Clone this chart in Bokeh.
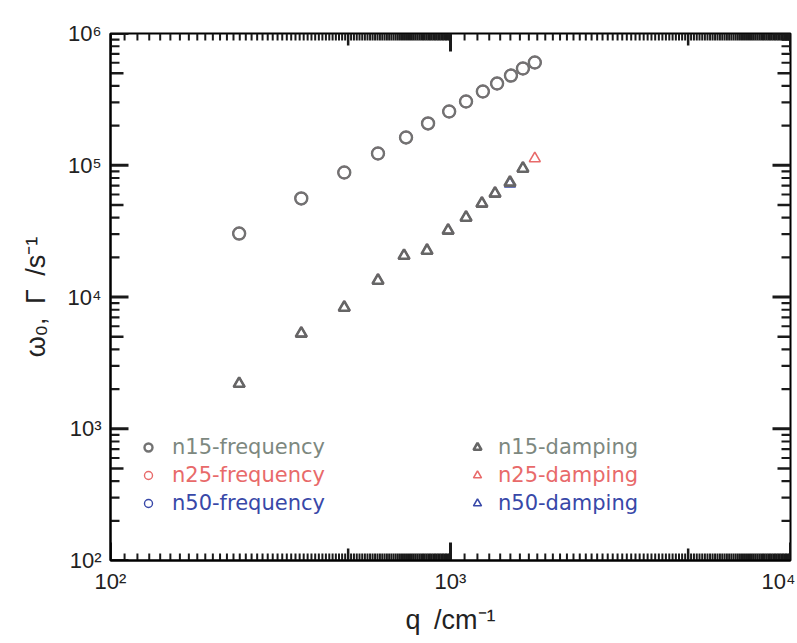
import math
from bokeh.plotting import figure
from bokeh.models import (FixedTicker, CustomJSTickFormatter, Legend,
                          LegendItem, Range1d)
from bokeh.embed import file_html
from bokeh.resources import INLINE

# ---- data ----
q = [239, 364, 487, 612, 740, 859, 991, 1111, 1245, 1371, 1506, 1633, 1770]

freq_n15 = [30300, 56000, 88100, 122800, 162500, 207600, 255800, 304700,
            362800, 417200, 479400, 542400, 602500]
freq_n25 = [30300, 56000, 88100, 122800, 162500, 207600, 255800, 304700,
            362800, 417200, 479400, 542400, 602500]
freq_n50 = [30300, 56000, 88100, 122800, 162500, 207600, 255800, 304700,
            362800, 417200, 479400, 542400, 602500]

q_damp = [239, 364, 487, 612, 730, 853, 984, 1111, 1237, 1352, 1496, 1633]
damp_n15 = [2200, 5290, 8320, 13340, 20600, 22500, 32000, 40100, 51300,
            61100, 74000, 94400]
q_damp_n25 = [239, 364, 487, 612, 730, 853, 984, 1111, 1237, 1352, 1496, 1633, 1770]
damp_n25 = [2200, 5290, 8320, 13340, 20600, 22500, 32000, 40100, 51300,
            61100, 74000, 94400, 112500]
damp_n50 = [2200, 5290, 8320, 13340, 20600, 22500, 32000, 40100, 51300,
            61100, 72500, 94400]

series_labels = ["n15-frequency", "n25-frequency", "n50-frequency",
                 "n15-damping", "n25-damping", "n50-damping"]

x_major = [1e2, 1e3, 1e4]
y_major = [1e2, 1e3, 1e4, 1e5, 1e6]

# ---- styles ----
C15 = "#727272"
C15_TXT = "#7d887f"
C25 = "#e86a6a"
C50 = "#3848a8"
TICK = "#1a1a1a"

FW, FH = 680, 527
X0, X1, Y0, Y1 = 1e2, 1e4, 1e2, 1e6
PX_DEC_X = FW / math.log10(X1 / X0)
PX_DEC_Y = FH / math.log10(Y1 / Y0)

x_medium = [500, 5000]
x_minor = [v for v in range(110, 1000, 10) if v != 500] + \
          [v for v in range(1100, 10000, 100) if v != 5000]
y_medium = [5 * 10 ** e for e in range(2, 6)]
y_minor = [k * 10 ** e for e in range(2, 6) for k in (2, 3, 4, 6, 7, 8, 9)]

p = figure(frame_width=FW, frame_height=FH,
           x_axis_type="log", y_axis_type="log",
           x_range=Range1d(X0, X1), y_range=Range1d(Y0, Y1),
           output_backend="svg", toolbar_location=None,
           min_border_left=110, min_border_top=33, min_border_right=5,
           min_border_bottom=10)
p.background_fill_color = "white"
p.border_fill_color = "white"
p.grid.visible = False
p.outline_line_color = "black"
p.outline_line_width = 2

fmt = CustomJSTickFormatter(code="""
const s = {'0':'\u2070','1':'\u00b9','2':'\u00b2','3':'\u00b3','4':'\u2074',
           '5':'\u2075','6':'\u2076','7':'\u2077','8':'\u2078','9':'\u2079'};
const e = Math.round(Math.log10(tick));
return '10' + String(e).split('').map(c => s[c]).join('');
""")

for ax, ticks in ((p.xaxis[0], x_major), (p.yaxis[0], y_major)):
    ax.ticker = FixedTicker(ticks=ticks, minor_ticks=[])
    ax.formatter = fmt
    ax.axis_line_width = 2
    ax.axis_line_color = "black"
    ax.major_tick_in = 0
    ax.major_tick_out = 0
    ax.minor_tick_in = 0
    ax.minor_tick_out = 0
    ax.major_label_text_font = "Liberation Sans"
    ax.major_label_text_font_size = "22px"
    ax.major_label_text_color = "#222222"
    ax.axis_label_text_font = "Liberation Sans"
    ax.axis_label_text_font_size = "27px"
    ax.axis_label_text_font_style = "normal"
    ax.axis_label_text_color = "#222222"

p.xaxis[0].axis_label = "q\u2002/cm\u207b\u00b9"
p.xaxis[0].major_label_standoff = 8
p.xaxis[0].axis_label_standoff = 8
p.yaxis[0].axis_label = "\u03c9\u2080,\u2002\u0393\u2002/s\u207b\u00b9"
p.yaxis[0].major_label_standoff = 9
p.yaxis[0].axis_label_standoff = 14


# ---- inward tick marks (top/bottom and left/right edges) ----
def x_edge_ticks(vals, length, lw):
    f = 10 ** (length / PX_DEC_Y)
    xs = [float(v) for v in vals]
    p.segment(x0=xs + xs, y0=[Y0] * len(xs) + [Y1] * len(xs),
              x1=xs + xs, y1=[Y0 * f] * len(xs) + [Y1 / f] * len(xs),
              line_color=TICK, line_width=lw)


def y_edge_ticks(vals, length, lw):
    f = 10 ** (length / PX_DEC_X)
    ys = [float(v) for v in vals]
    p.segment(x0=[X0] * len(ys) + [X1] * len(ys), y0=ys + ys,
              x1=[X0 * f] * len(ys) + [X1 / f] * len(ys), y1=ys + ys,
              line_color=TICK, line_width=lw)


x_edge_ticks(x_major, 18, 3)
x_edge_ticks(x_medium, 12, 2.5)
x_edge_ticks(x_minor, 7, 2)
y_edge_ticks(y_major, 18, 3)
y_edge_ticks(y_medium, 13, 2.5)
y_edge_ticks(y_minor, 9, 2.2)

# ---- glyphs ----
r_f50 = p.scatter(q, freq_n50, marker="circle", size=12, fill_color=None,
                  line_color=C50, line_width=1.4)
r_f25 = p.scatter(q, freq_n25, marker="circle", size=12, fill_color=None,
                  line_color=C25, line_width=1.4)
r_f15 = p.scatter(q, freq_n15, marker="circle", size=12, fill_color=None,
                  line_color=C15, line_width=2.4)
r_d50 = p.scatter(q_damp, damp_n50, marker="triangle", size=11, fill_color=None,
                  line_color=C50, line_width=1.6)
r_d25 = p.scatter(q_damp_n25, damp_n25, marker="triangle", size=11, fill_color=None,
                  line_color=C25, line_width=1.6)
r_d15 = p.scatter(q_damp, damp_n15, marker="triangle", size=11, fill_color=None,
                  line_color="#666666", line_width=2.6)

renderers = [r_f15, r_f25, r_f50, r_d15, r_d25, r_d50]
txt_cols = [C15_TXT, C25, C50, C15_TXT, C25, C50]
locs = [(28, 101), (28, 73), (28, 45), (357, 101), (357, 73), (357, 45)]
standoffs = [14, 14, 14, 11, 11, 11]
for r, lab, col, loc, so in zip(renderers, series_labels, txt_cols, locs, standoffs):
    leg = Legend(items=[LegendItem(label=lab, renderers=[r], index=0)], location=loc,
                 label_text_color=col, label_text_font="DejaVu Sans",
                 label_text_font_size="21px", background_fill_alpha=0,
                 border_line_alpha=0, padding=0, margin=0, glyph_width=20,
                 glyph_height=20, label_standoff=so, label_height=20)
    p.add_layout(leg)

open("out.html", "w").write(file_html(p, INLINE))
